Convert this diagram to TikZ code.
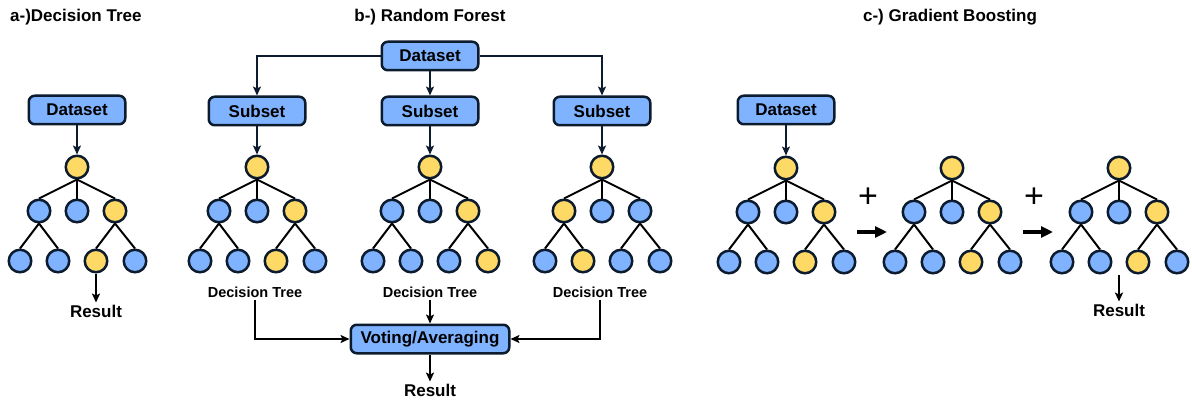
\documentclass[tikz,border=0pt]{standalone}
\usepackage{fontspec}
\setmainfont{Liberation Sans}
\usetikzlibrary{arrows.meta}
\usetikzlibrary{positioning}

\definecolor{nodeblue}{HTML}{80B3FF}
\definecolor{nodeyellow}{HTML}{FFD966}
\definecolor{navy}{HTML}{0D1B2E}

% one small decision tree: name, root position, then the 7 lower node styles
\newcommand{\dtree}[9]{%
    \node [ynode] (#1-r) at (#2) {};
    \node [#3] (#1-a) at ([shift={(-38,44)}] #1-r) {};
    \node [#4] (#1-b) at ([shift={(0,44)}] #1-r) {};
    \node [#5] (#1-c) at ([shift={(38,44)}] #1-r) {};
    \node [#6] (#1-aa) at ([shift={(-57,94)}] #1-r) {};
    \node [#7] (#1-ab) at ([shift={(-19,94)}] #1-r) {};
    \node [#8] (#1-ca) at ([shift={(19,94)}] #1-r) {};
    \node [#9] (#1-cb) at ([shift={(58,94)}] #1-r) {};
    \draw [branch] (#1-r.south) -- (#1-a.north);
    \draw [branch] (#1-r.south) -- (#1-b.north);
    \draw [branch] (#1-r.south) -- (#1-c.north);
    \draw [branch] (#1-a.south) -- (#1-aa.north);
    \draw [branch] (#1-a.south) -- (#1-ab.north);
    \draw [branch] (#1-c.south) -- (#1-ca.north);
    \draw [branch] (#1-c.south) -- (#1-cb.north);
}

\begin{document}
\begin{tikzpicture}
    [x=1pt, y=-1pt,
     leaf/.style={circle, draw=navy, line width=2.5pt, minimum size=22.5pt, inner sep=0pt},
     ynode/.style={leaf, fill=nodeyellow},
     bnode/.style={leaf, fill=nodeblue},
     branch/.style={draw=black, line width=2pt},
     databox/.style={rectangle, rounded corners=6pt, draw=navy, line width=2.5pt, fill=nodeblue, minimum width=96.5pt, minimum height=28.5pt, font=\fontsize{17}{20}\selectfont\bfseries},
     conn/.style={draw=navy, line width=2pt, -{Stealth[length=9pt, width=8pt, inset=2pt]}},
     resarrow/.style={draw=black, line width=2pt, -{Stealth[length=9pt, width=8pt, inset=2pt]}},
     bigarrow/.style={draw=black, line width=4pt, -{Triangle[length=12pt, width=11pt]}},
     title/.style={font=\fontsize{17}{20}\selectfont\bfseries, inner sep=0pt},
     txt/.style={font=\fontsize{17}{20}\selectfont\bfseries, inner sep=2pt},
     small/.style={font=\fontsize{14.5}{17}\selectfont\bfseries, inner sep=2pt},
     plus/.style={font=\fontsize{34}{34}\selectfont, inner sep=0pt}]

    \useasboundingbox (0,0) rectangle (1192,401);

    % titles
    \node [title, anchor=west] (ta-title) at (10,17) {a-)Decision Tree};
    \node [title] (tb-title) at (430,17) {b-) Random Forest};
    \node [title] (tc-title) at (950,17) {c-) Gradient Boosting};

    % a) decision tree
    \node [databox] (dsa) at (77,110) {Dataset};
    \dtree{ta}{77,167}{bnode}{bnode}{ynode}{bnode}{bnode}{ynode}{bnode}
    \draw [conn] (dsa) -- (ta-r);
    \node [txt] (resa) at (96,311) {Result};
    \draw [resarrow] (ta-ca) -- (resa);

    % b) random forest
    \node [databox] (dsb) at (430,56) {Dataset};
    \node [databox] (sub1) at (257,111) {Subset};
    \node [databox] (sub2) at (430,111) {Subset};
    \node [databox] (sub3) at (602,111) {Subset};
    \draw [conn] (dsb.west) -| (sub1.north);
    \draw [conn] (dsb) -- (sub2);
    \draw [conn] (dsb.east) -| (sub3.north);
    \dtree{rf1}{257,167}{bnode}{bnode}{ynode}{bnode}{bnode}{ynode}{bnode}
    \dtree{rf2}{430,167}{bnode}{bnode}{ynode}{bnode}{bnode}{bnode}{ynode}
    \dtree{rf3}{602,167}{ynode}{bnode}{bnode}{bnode}{ynode}{bnode}{bnode}
    \draw [conn] (sub1) -- (rf1-r);
    \draw [conn] (sub2) -- (rf2-r);
    \draw [conn] (sub3) -- (rf3-r);
    \node [small] (dt1) at (255,292) {Decision Tree};
    \node [small] (dt2) at (430,292) {Decision Tree};
    \node [small] (dt3) at (600,292) {Decision Tree};
    \node [databox, minimum width=158.5pt] (vote) at (430,339) {Voting/Averaging};
    \draw [resarrow] (dt1) |- (vote);
    \draw [resarrow] (dt2) -- (vote);
    \draw [resarrow] (dt3) |- (vote);
    \node [txt] (resb) at (430,390) {Result};
    \draw [resarrow] (vote) -- (resb);

    % c) gradient boosting
    \node [databox] (dsc) at (786,110) {Dataset};
    \dtree{gb1}{786,168}{bnode}{bnode}{ynode}{bnode}{bnode}{ynode}{bnode}
    \dtree{gb2}{952,168}{bnode}{bnode}{ynode}{bnode}{bnode}{ynode}{bnode}
    \dtree{gb3}{1119,168}{bnode}{bnode}{ynode}{bnode}{bnode}{ynode}{bnode}
    \draw [conn] (dsc) -- (gb1-r);
    \node [plus] (p1) at (868,198) {+};
    \node [plus] (p2) at (1034,198) {+};
    \coordinate (g1s) at (857,232);
    \coordinate (g1e) at (887,232);
    \coordinate (g2s) at (1023,232);
    \coordinate (g2e) at (1053,232);
    \draw [bigarrow] (g1s) -- (g1e);
    \draw [bigarrow] (g2s) -- (g2e);
    \coordinate (gb3-out) at (1119,275);
    \node [txt] (resc) at (1119,310) {Result};
    \draw [resarrow] (gb3-out) -- (resc);
\end{tikzpicture}
\end{document}
